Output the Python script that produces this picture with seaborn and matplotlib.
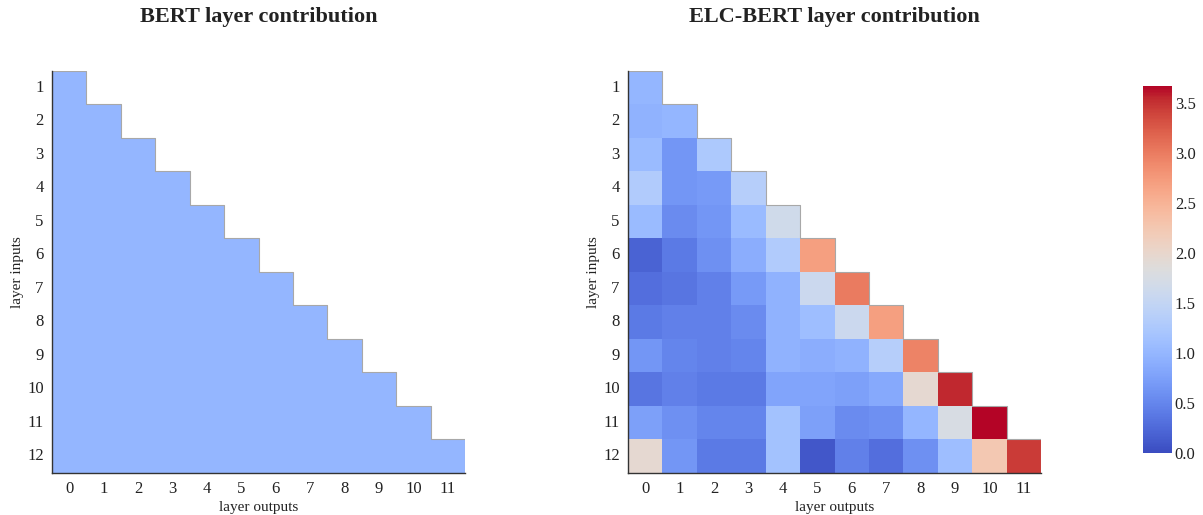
import numpy as np
import pandas as pd
import matplotlib
matplotlib.use("Agg")
import matplotlib.pyplot as plt
import seaborn as sns

# layer outputs (columns) and layer inputs (rows)
output_layers = list(range(12))
input_layers = list(range(1, 13))

# BERT: every earlier layer contributes equally
bert_rows = [[1.0] * i for i in input_layers]

# ELC-BERT: learned contribution weights, read row by row
elc_rows = [
    [1.00],
    [0.95, 1.00],
    [1.05, 0.65, 1.25],
    [1.30, 0.65, 0.70, 1.35],
    [1.05, 0.55, 0.65, 1.05, 1.65],
    [0.20, 0.40, 0.60, 0.90, 1.30, 2.70],
    [0.30, 0.35, 0.45, 0.70, 0.95, 1.60, 3.00],
    [0.40, 0.45, 0.45, 0.55, 0.95, 1.10, 1.60, 2.70],
    [0.65, 0.50, 0.45, 0.50, 0.95, 0.90, 0.95, 1.35, 2.95],
    [0.35, 0.45, 0.40, 0.40, 0.80, 0.80, 0.75, 0.85, 1.95, 3.55],
    [0.75, 0.60, 0.50, 0.50, 1.15, 0.75, 0.55, 0.60, 1.00, 1.75, 3.67],
    [1.95, 0.65, 0.40, 0.40, 1.15, 0.10, 0.45, 0.30, 0.60, 1.10, 2.25, 3.45],
]


def to_frame(rows):
    grid = np.full((len(input_layers), len(output_layers)), np.nan)
    for i, r in enumerate(rows):
        grid[i, :len(r)] = r
    return pd.DataFrame(grid, index=input_layers, columns=output_layers)


bert_df = to_frame(bert_rows)
elc_df = to_frame(elc_rows)
vmax = np.nanmax(elc_df.values)

sns.set_theme(style="white")
plt.rcParams['font.family'] = ['Liberation Serif', 'DejaVu Serif']
plt.rcParams['text.color'] = '#222222'
plt.rcParams['axes.labelcolor'] = '#222222'
plt.rcParams['xtick.color'] = '#222222'
plt.rcParams['ytick.color'] = '#222222'

fig = plt.figure(figsize=(12.03, 5.15), dpi=100)
W, H = 1203, 515
ax1 = fig.add_axes([52 / W, 42 / H, 413 / W, 402 / H])
ax2 = fig.add_axes([628 / W, 42 / H, 413 / W, 402 / H])
cax = fig.add_axes([1143 / W, 62 / H, 29 / W, 367 / H])

for ax, df, title, cb in [(ax1, bert_df, 'BERT layer contribution', False),
                          (ax2, elc_df, 'ELC-BERT layer contribution', True)]:
    sns.heatmap(df, ax=ax, cmap='coolwarm', vmin=0, vmax=vmax, square=False,
                cbar=cb, cbar_ax=cax if cb else None, mask=df.isna())
    # faint outline along the staircase edge
    n = len(input_layers)
    edges = np.arange(n + 1)
    ax.step(edges, edges, where='post', color='#a8a8a8', lw=0.8)
    ax.set_xlim(0, len(output_layers))
    ax.set_ylim(n, 0)
    for s in ['left', 'bottom']:
        ax.spines[s].set_visible(True)
        ax.spines[s].set_color('#333333')
        ax.spines[s].set_linewidth(1.0)
    for s in ['top', 'right']:
        ax.spines[s].set_visible(False)
    ax.tick_params(length=0, labelsize=12, pad=6)
    ax.set_yticklabels(input_layers, rotation=0)
    ax.set_xticklabels(output_layers, rotation=0)
    ax.set_xlabel('layer outputs', fontsize=11, labelpad=3)
    ax.set_ylabel('layer inputs', fontsize=11, labelpad=2)
    ax.set_title(title, fontsize=16, fontweight='bold', pad=35)

cax.tick_params(length=0, labelsize=12, pad=2)
cax.set_yticks([0, 0.5, 1.0, 1.5, 2.0, 2.5, 3.0, 3.5])
cax.set_yticklabels(['0.0', '0.5', '1.0', '1.5', '2.0', '2.5', '3.0', '3.5'])

fig.savefig('out.png', dpi=100)
